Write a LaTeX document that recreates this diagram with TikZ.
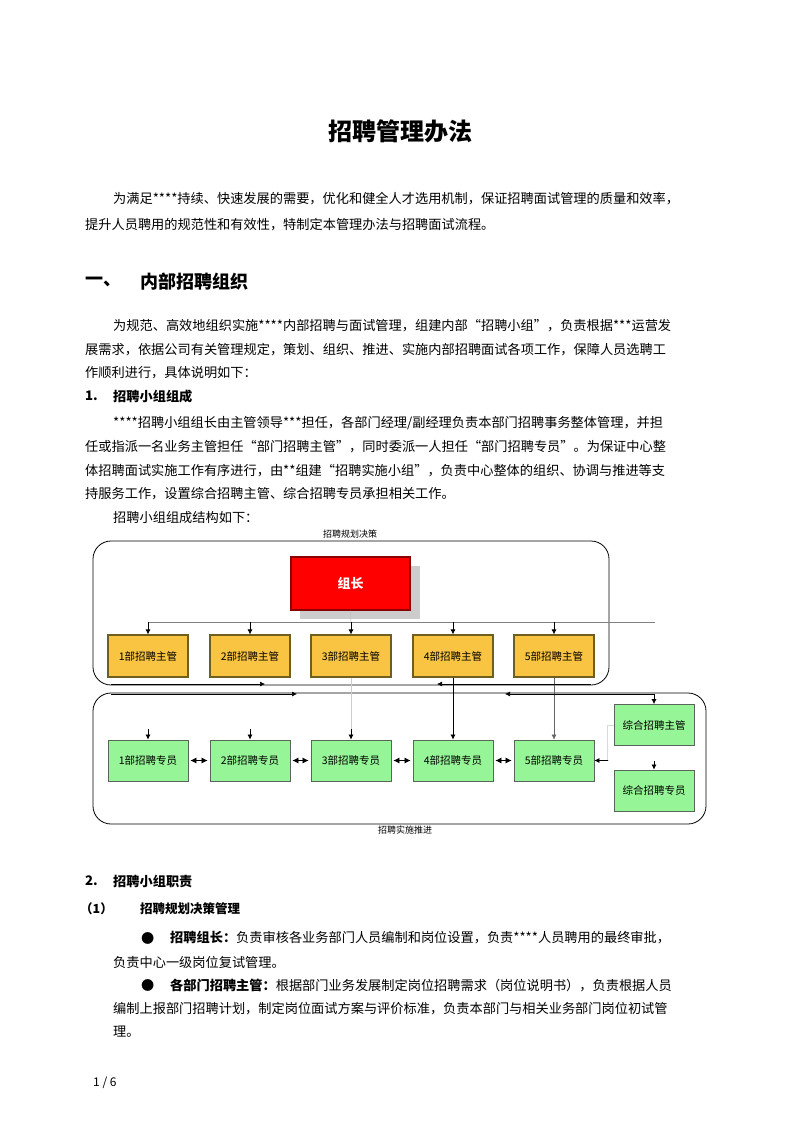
\documentclass[tikz,border=0pt]{standalone}
\usepackage{fontspec}
\setmainfont{Noto Sans CJK SC}
\usetikzlibrary{arrows.meta}
\XeTeXlinebreaklocale "zh"
\XeTeXlinebreakskip=0pt plus 1pt
\definecolor{ybox}{RGB}{248,196,66}
\definecolor{ydraw}{RGB}{110,95,30}
\definecolor{gbox}{RGB}{150,245,150}
\definecolor{gdraw}{RGB}{90,100,90}
\newcommand{\bodyf}{\fontsize{13.2}{16}\selectfont}
\tikzset{
 full/.style={anchor=west,text width=604pt,inner sep=0pt,align=justify,font=\bodyf},
 ln/.style={anchor=west,inner sep=0pt,font=\bodyf},
 hd/.style={anchor=west,inner sep=0pt,font=\bodyf\bfseries},
 ybx/.style={draw=ydraw,line width=1.2pt,fill=ybox,minimum width=80pt,minimum height=42pt,inner sep=0pt,font=\fontsize{10.5}{12}\selectfont},
 gbx/.style={draw=gdraw,line width=0.8pt,fill=gbox,minimum width=80pt,minimum height=41pt,inner sep=0pt,font=\fontsize{10.5}{12}\selectfont},
 arr/.style={-{Latex[length=5pt,width=5pt]},line width=0.7pt},
 darr/.style={{Latex[length=6pt,width=6pt]}-{Latex[length=6pt,width=6pt]},line width=0.7pt,shorten <=2pt,shorten >=2pt},
}
\begin{document}
\begin{tikzpicture}[x=1pt,y=-1pt]
\useasboundingbox[fill=white] (0,0) rectangle (800,1132);
\node[anchor=center,font=\fontsize{24}{26}\selectfont\bfseries] (title) at (400,131) {招聘管理办法};
\node[full,text width=604pt] (p1a) at (113,199) {\parfillskip=0pt 为满足****持续、快速发展的需要，优化和健全人才选用机制，保证招聘面试管理的质量和效率，};
\node[ln] (p1b) at (85,225) {提升人员聘用的规范性和有效性，特制定本管理办法与招聘面试流程。};
\node[anchor=west,inner sep=0pt,font=\fontsize{18}{20}\selectfont\bfseries] (h1n) at (85,282) {一、};
\node[anchor=west,inner sep=0pt,font=\fontsize{18}{20}\selectfont\bfseries] (h1) at (140,282) {内部招聘组织};
\node[full] (p2a) at (113,326) {\parfillskip=0pt 为规范、高效地组织实施****内部招聘与面试管理，组建内部“招聘小组”，负责根据***运营发};
\node[full,text width=632pt] (p2b) at (85,350) {\parfillskip=0pt 展需求，依据公司有关管理规定，策划、组织、推进、实施内部招聘面试各项工作，保障人员选聘工};
\node[ln] (p2c) at (85,373) {作顺利进行，具体说明如下：};
\node[hd] (h2n) at (85,396) {1.};
\node[hd] (h2) at (113,396) {招聘小组组成};
\node[full] (p3a) at (113,423) {\parfillskip=0pt ****招聘小组组长由主管领导***担任，各部门经理/副经理负责本部门招聘事务整体管理，并担};
\node[full,text width=632pt] (p3b) at (85,447) {\parfillskip=0pt 任或指派一名业务主管担任“部门招聘主管”，同时委派一人担任“部门招聘专员”。为保证中心整};
\node[full,text width=632pt] (p3c) at (85,471) {\parfillskip=0pt 体招聘面试实施工作有序进行，由**组建“招聘实施小组”，负责中心整体的组织、协调与推进等支};
\node[ln] (p3d) at (85,494) {持服务工作，设置综合招聘主管、综合招聘专员承担相关工作。};
\node[ln] (p3e) at (113,518) {招聘小组组成结构如下：};
% diagram
\node[font=\fontsize{9}{10}\selectfont,inner sep=0pt] (lab1) at (350,534) {招聘规划决策};
\node[font=\fontsize{9}{10}\selectfont,inner sep=0pt] (lab2) at (405,830) {招聘实施推进};
\draw[line width=0.8pt,rounded corners=18pt] (93,541) rectangle (609,685);
\draw[line width=0.8pt,rounded corners=18pt] (93,693) rectangle (706,824);
\fill[gray!40] (300,566) rectangle (420,619);
\node[draw={rgb,255:red,140;green,0;blue,0},line width=1.5pt,fill=red,minimum width=119pt,minimum height=53pt,inner sep=0pt,text=white,font=\fontsize{13}{14}\selectfont\bfseries] (lead) at (350.5,583.5) {组长};
\coordinate (busL) at (148,622);
\coordinate (busR) at (655,622);
\draw[gray,line width=0.7pt] (busL) -- (busR);
\foreach \i/\x in {1/148,2/250,3/351,4/453,5/554}{
 \node[ybx] (y\i) at (\x,656) {{\i}部招聘主管};
 \node[gbx] (g\i) at (\x,760.5) {{\i}部招聘专员};
 \coordinate (t\i) at (\x,622);
 \coordinate (s\i) at (\x,729);
 \draw[arr] (t\i) -- (y\i.north);
}
\draw[gray!50,line width=0.5pt] (lead.south) -- (t3);
\draw[gray!40,line width=0.4pt] (y3.south) -- (s3);
\foreach \i in {1,2,3}{\draw[arr] (s\i) -- (g\i.north);}
\draw[arr] (y4.south) -- (g4.north);
\draw[arr,gray!80!black,line width=0.5pt] (y5.south) -- (g5.north);
\foreach \a/\b in {1/2,2/3,3/4,4/5}{\draw[darr] (g\a.east) -- (g\b.west);}
\node[gbx] (z1) at (654,725) {综合招聘主管};
\node[gbx] (z2) at (654,790.5) {综合招聘专员};
\coordinate (z2t) at (654,761);
\draw[arr] (z2t) -- (z2.north);
% horizontal arrows
\coordinate (a1s) at (111,684);
\coordinate (a1e) at (265,684);
\coordinate (a2s) at (111,694);
\coordinate (a2e) at (297,694);
\coordinate (a3s) at (591,684);
\coordinate (a3e) at (437,684);
\coordinate (a4s) at (654,694);
\coordinate (a4e) at (505,694);
\draw[arr] (a1s) -- (a1e);
\draw[arr] (a2s) -- (a2e);
\draw[arr] (a3s) -- (a3e);
\draw[arr] (a4s) -- (a4e);
\draw[arr] (a4s) -- (z1.north);
\coordinate (g5r) at (608,760.5);
\draw[gray!30,line width=0.4pt] (z1.west) -- ++(-6,0) |- (g5r);
\draw[arr] (g5r) -- (g5.east);
% section 2
\node[hd] (h3n) at (85,881) {2.};
\node[hd] (h3) at (113,881) {招聘小组职责};
\node[anchor=west,inner sep=0pt,font=\fontsize{12.5}{14}\selectfont\bfseries] (h4n) at (80,909) {（1）};
\node[anchor=west,inner sep=0pt,font=\fontsize{12.5}{14}\selectfont\bfseries] (h4) at (140,909) {招聘规划决策管理};
\node[ln] (b1) at (141,938) {●};
\node[full,text width=547pt] (p4a) at (170,938) {\parfillskip=0pt \textbf{招聘组长：}负责审核各业务部门人员编制和岗位设置，负责****人员聘用的最终审批，};
\node[ln] (p4b) at (113,962) {负责中心一级岗位复试管理。};
\node[ln] (b2) at (141,985) {●};
\node[full,text width=547pt] (p5a) at (170,985) {\parfillskip=0pt \textbf{各部门招聘主管：}根据部门业务发展制定岗位招聘需求（岗位说明书），负责根据人员};
\node[full] (p5b) at (113,1009) {\parfillskip=0pt 编制上报部门招聘计划，制定岗位面试方案与评价标准，负责本部门与相关业务部门岗位初试管};
\node[ln] (p5c) at (113,1032) {理。};
\node[anchor=west,inner sep=0pt,font=\fontsize{12}{14}\selectfont] (pg) at (93,1083) {1 / 6};
\end{tikzpicture}
\end{document}
